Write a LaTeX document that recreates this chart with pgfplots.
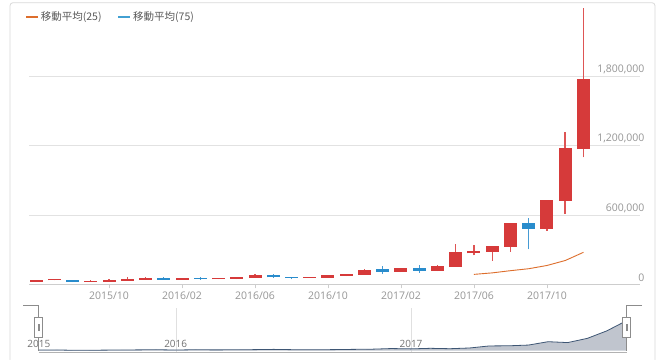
\documentclass[border=0pt]{standalone}
\usepackage{fontspec}
\setmainfont{Open Sans}
\newfontfamily\cjk{Noto Sans CJK JP}
\usepackage{pgfplots}
\usepackage{pgfplotstable}
\pgfplotsset{compat=1.18}
\definecolor{upred}{RGB}{214,58,58}
\definecolor{upwick}{RGB}{222,85,85}
\definecolor{downblue}{RGB}{41,140,204}
\definecolor{downwick}{RGB}{70,155,212}
\definecolor{maorange}{RGB}{221,110,44}
\definecolor{mablue}{RGB}{66,160,210}
\definecolor{tickgray}{RGB}{150,150,150}
\definecolor{gridgray}{RGB}{226,226,226}
\definecolor{axisgray}{RGB}{205,205,205}
\definecolor{boxgray}{RGB}{218,218,218}
\definecolor{navline}{RGB}{62,86,116}
\definecolor{navfill}{RGB}{192,197,206}
\definecolor{legtext}{RGB}{90,90,90}

% rising months (close > open), 2015/06 = 0 ... 2017/12 = 30, JPY
\pgfplotstableread{
i open close
0 21000 39000
1 36000 42000
3 25000 31000
4 21000 40000
5 31000 48000
6 40000 57000
8 40000 57000
10 45000 54000
11 46000 63000
12 57000 78000
15 57000 63000
16 57000 78000
17 72000 89000
18 83000 127000
20 109000 141000
22 118000 161000
23 152000 282000
24 268000 291000
25 282000 334000
26 325000 533000
28 479000 730000
29 724000 1177000
30 1171000 1777000
}\upc

% falling months (close < open)
\pgfplotstableread{
i open close
2 37000 21000
7 57000 40000
9 54000 48000
13 78000 60000
14 63000 57000
19 130000 109000
21 144000 118000
27 533000 481000
}\downc

% wicks of rising months: low, high (nan separates months)
\pgfplotstableread{
i y
0 20000
0 41000
0 nan
1 34000
1 50000
1 nan
3 22000
3 34000
3 nan
4 20000
4 44000
4 nan
5 30000
5 63000
5 nan
6 38000
6 60000
6 nan
8 38000
8 58000
8 nan
10 44000
10 56000
10 nan
11 45000
11 65000
11 nan
12 55000
12 92000
12 nan
15 55000
15 65000
15 nan
16 56000
16 80000
16 nan
17 70000
17 91000
17 nan
18 82000
18 130000
18 nan
20 105000
20 143000
20 nan
22 115000
22 163000
22 nan
23 150000
23 349000
23 nan
24 251000
24 338000
24 nan
25 204000
25 336000
25 nan
26 282000
26 535000
26 nan
28 464000
28 732000
28 nan
29 609000
29 1321000
29 nan
30 1099000
30 2398000
}\upwicks

% wicks of falling months
\pgfplotstableread{
i y
2 19000
2 40000
2 nan
7 38000
7 59000
7 nan
9 40000
9 60000
9 nan
13 58000
13 90000
13 nan
14 45000
14 65000
14 nan
19 89000
19 158000
19 nan
21 98000
21 165000
21 nan
27 303000
27 571000
}\downwicks

% monthly closes for the navigator
\pgfplotstableread{
i close
0 39000
1 42000
2 21000
3 31000
4 40000
5 48000
6 57000
7 40000
8 57000
9 48000
10 54000
11 63000
12 78000
13 60000
14 57000
15 63000
16 78000
17 89000
18 127000
19 109000
20 141000
21 118000
22 161000
23 282000
24 291000
25 334000
26 533000
27 481000
28 730000
29 1177000
30 1777000
}\closes

\pgfplotstableread{
i ma
24 86000
25 99000
26 118000
27 135000
28 163000
29 206000
30 277000
}\matf

\begin{document}
\begin{tikzpicture}[x=1pt,y=1pt]
\useasboundingbox (0,0) rectangle (663,359);
\fill[white] (0,0) rectangle (663,359);
\draw[boxgray, line width=0.8pt, rounded corners=3pt] (10,-2) -- (10,356.3) -- (655,356.3) -- (655,-2);

\begin{axis}[
  at={(29.3pt,74.7pt)}, anchor=south west, scale only axis,
  width=610.7pt, height=277pt,
  xmin=-0.37, xmax=33.1, ymin=0, ymax=2400000,
  axis x line*=bottom, axis y line*=right,
  x axis line style={draw=axisgray, -},
  y axis line style={draw=none, -},
  ymajorgrids, grid style={gridgray, line width=0.6pt},
  ytick={0,600000,1200000,1800000},
  yticklabels={0,{600,000},{1,200,000},{1,800,000}},
  ytick style={draw=none},
  yticklabel style={anchor=south east, xshift=4pt, yshift=-1pt, text=tickgray, font=\fontsize{10.5}{12}\selectfont},
  xtick={4,8,12,16,20,24,28},
  xticklabels={2015/10,2016/02,2016/06,2016/10,2017/02,2017/06,2017/10},
  xtick style={draw=axisgray},
  major tick length=4pt, tick align=outside,
  xticklabel style={text=tickgray, font=\fontsize{10.5}{12}\selectfont},
  clip=false,
  unbounded coords=jump,
  legend columns=2,
  legend style={at={(-0.007,0.964)}, anchor=west, draw=none, fill=none, inner sep=0pt,
    font=\cjk\fontsize{10.5}{12}\selectfont\color{legtext},
    /tikz/every even column/.append style={column sep=14pt}},
  legend image code/.code={\draw[#1, line width=1.6pt] (0pt,0pt) -- (12pt,0pt);},
]
% wicks
\addplot[forget plot, upwick, line width=1.4pt, mark=none] table[x=i, y=y] {\upwicks};
\addplot[forget plot, downwick, line width=1.4pt, mark=none] table[x=i, y=y] {\downwicks};
% rising bodies
\addplot[forget plot, color=upred, draw=none, mark=none,
  error bars/.cd, y dir=plus, y explicit, error mark=none,
  error bar style={line width=13pt, draw=upred, line cap=butt}]
  table[x=i, y=open, y error plus expr=\thisrow{close}-\thisrow{open}] {\upc};
% falling bodies
\addplot[forget plot, color=downblue, draw=none, mark=none,
  error bars/.cd, y dir=plus, y explicit, error mark=none,
  error bar style={line width=13pt, draw=downblue, line cap=butt}]
  table[x=i, y=close, y error plus expr=\thisrow{open}-\thisrow{close}] {\downc};
% moving averages
\addplot[maorange, line width=0.9pt, mark=none] table[x=i, y=ma] {\matf};
\addlegendentry{移動平均(25)}
\addlegendimage{mablue, line width=0.9pt}
\addlegendentry{移動平均(75)}
\end{axis}

% navigator
\draw[black!12] (175.7,7.3) -- (175.7,51.3);
\draw[black!12] (411,7.3) -- (411,51.3);
\begin{axis}[
  at={(38.5pt,8.3pt)}, anchor=south west, scale only axis,
  width=588pt, height=30pt,
  xmin=0, xmax=30, ymin=0, ymax=1777000,
  axis lines=none, clip=false,
]
\addplot[draw=none, fill=navfill] table[x=i, y=close] {\closes} \closedcycle;
\addplot[navline, line width=0.8pt, mark=none] table[x=i, y=close] {\closes};
\end{axis}
\draw[black!30] (38.5,7.3) -- (626.5,7.3);
\node[text=black!55, font=\fontsize{10}{12}\selectfont] at (38.8,15.5) {2015};
\node[text=black!55, font=\fontsize{10}{12}\selectfont] at (175.7,15.5) {2016};
\node[text=black!55, font=\fontsize{10}{12}\selectfont] at (411,15.5) {2017};
% handles
\draw[black!45, line width=0.6pt] (23,54) -- (38.5,54) -- (38.5,41.7);
\draw[black!45, line width=0.6pt] (38.5,21.7) -- (38.5,8.3);
\filldraw[fill=white, draw=black!45, line width=0.6pt] (34.7,21.7) rectangle (42.3,41.7);
\draw[black!45, line width=0.5pt] (37.8,28) -- (37.8,35.4) (39.2,28) -- (39.2,35.4);
\draw[black!45, line width=0.6pt] (642,54) -- (626.5,54) -- (626.5,41.7);
\draw[black!45, line width=0.6pt] (626.5,21.7) -- (626.5,8.3);
\filldraw[fill=white, draw=black!45, line width=0.6pt] (622.7,21.7) rectangle (630.3,41.7);
\draw[black!45, line width=0.5pt] (625.8,28) -- (625.8,35.4) (627.2,28) -- (627.2,35.4);
\end{tikzpicture}
\end{document}
